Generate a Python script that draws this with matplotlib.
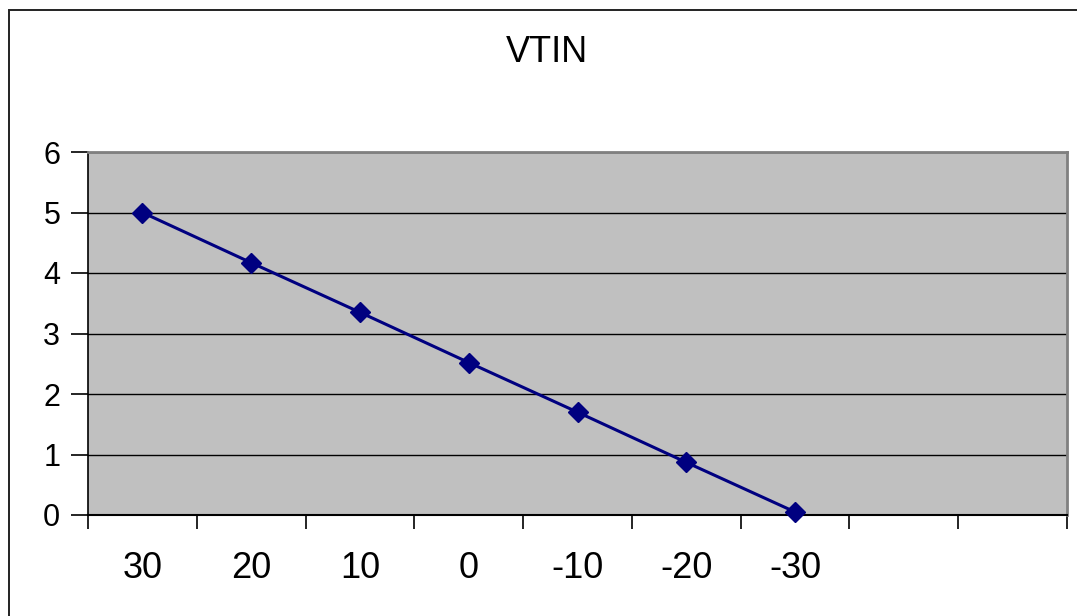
import matplotlib.pyplot as plt
from matplotlib.patches import Rectangle
import numpy as np

plt.rcParams['font.family'] = ['Liberation Sans', 'DejaVu Sans']

title = "VTIN"
categories = ["30", "20", "10", "0", "-10", "-20", "-30", "", ""]
values = [5.0, 4.17, 3.35, 2.52, 1.70, 0.87, 0.05]

W, H = 1077, 616
fig = plt.figure(figsize=(W / 100, H / 100), dpi=100)

# outer chart border (runs off the right and bottom edges)
fig.patches.append(Rectangle((9 / W, -0.05), 1.2, (H - 10) / H + 0.05,
                             transform=fig.transFigure, fill=False,
                             edgecolor='#222222', linewidth=1.4))

left, right, top, bottom = 88, 1067, 152, 515
ax = fig.add_axes([left / W, (H - bottom) / H, (right - left) / W, (bottom - top) / H])
ax.set_facecolor('#C0C0C0')

x = np.arange(len(values))
ax.plot(x, values, color='#000080', linewidth=2.2, marker='D', markersize=10,
        markerfacecolor='#000080', markeredgecolor='#000080', zorder=3,
        clip_on=False)

ax.set_xlim(-0.5, len(categories) - 0.5)
ax.set_ylim(0, 6)
ax.set_yticks(range(0, 7))
ax.yaxis.grid(True, color='black', linewidth=1)
ax.set_axisbelow(True)

ax.set_xticks(np.arange(-0.5, len(categories), 1.0))
ax.set_xticklabels([])
ax.set_xticks(np.arange(len(categories)), minor=True)
ax.set_xticklabels(categories, minor=True, fontsize=26)
ax.tick_params(axis='x', which='major', length=10, width=1.2, color='black')
ax.tick_params(axis='x', which='minor', length=0, pad=26)
ax.tick_params(axis='y', length=12, width=1.2, labelsize=22, pad=8)

for s in ['top', 'right']:
    ax.spines[s].set_color('#808080')
    ax.spines[s].set_linewidth(2)
ax.spines['left'].set_color('black')
ax.spines['bottom'].set_color('black')
ax.spines['left'].set_linewidth(1.2)
ax.spines['bottom'].set_linewidth(1.5)

fig.text(547 / W, 1 - 52 / H, title, ha='center', va='center', fontsize=26)

fig.savefig('out.png', dpi=100)
